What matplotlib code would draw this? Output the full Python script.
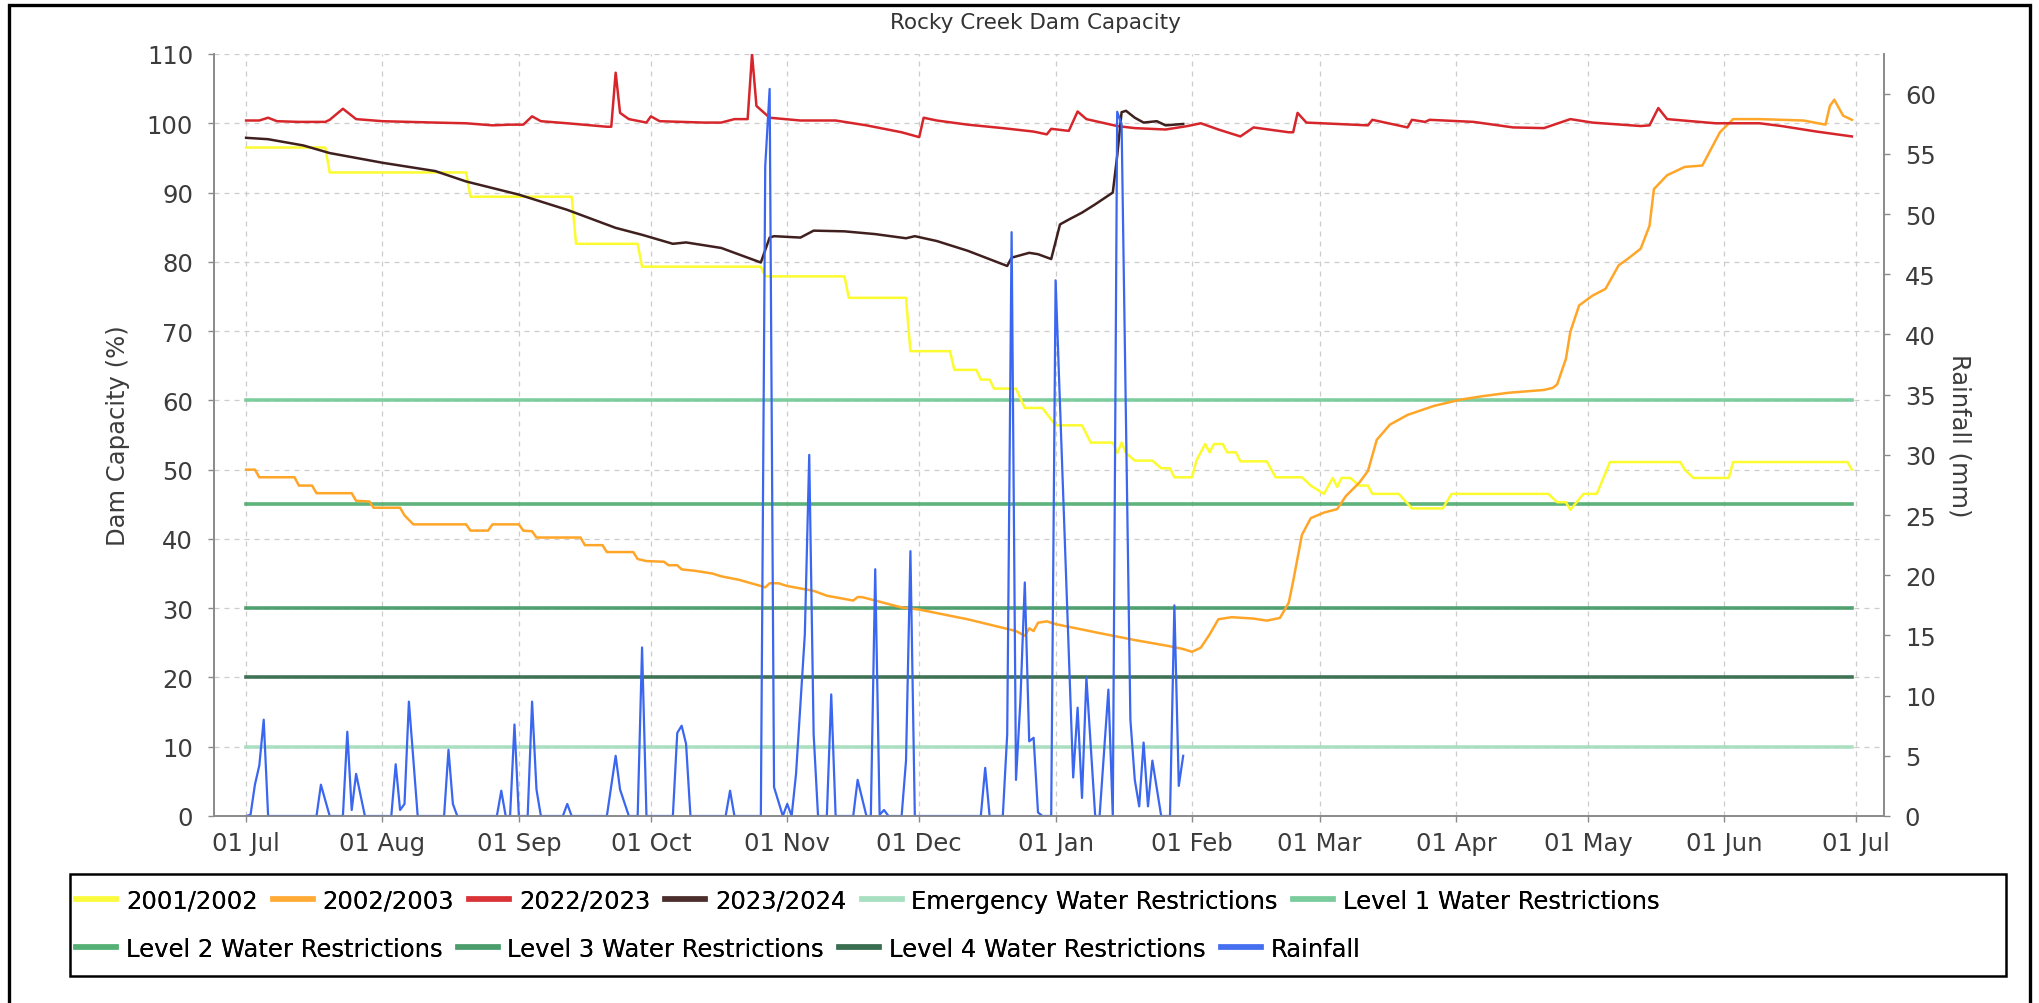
import numpy as np
import pandas as pd
import matplotlib
matplotlib.use("Agg")
import matplotlib.pyplot as plt
import matplotlib.dates as mdates
from matplotlib.patches import Rectangle

start = pd.Timestamp("2023-07-01")

# days are offsets from 01 Jul

# 2001/2002 (stepped)
y0102_days = [0, 18, 19, 50, 51, 74, 75, 89, 90, 117, 118, 136, 137, 150, 151, 160, 161, 166, 167, 169,
              170, 175, 177, 181, 184, 190, 192, 197, 198, 199, 200, 202, 206, 208, 210, 211, 215, 216, 218, 219,
              220, 222, 223, 225, 226, 232, 234, 240, 242, 245, 247, 248, 249, 251, 253, 255, 256, 262, 265, 272,
              274, 296, 298, 300, 301, 304, 307, 309, 310, 326, 327, 329, 337, 338, 364, 365]
y0102_pct = [96.5, 96.5, 92.9, 92.9, 89.4, 89.4, 82.6, 82.6, 79.3, 79.3, 77.9, 77.9, 74.8, 74.8, 67.1, 67.1, 64.4, 64.4, 63.0, 63.0,
             61.7, 61.7, 58.9, 58.9, 56.4, 56.4, 53.9, 53.9, 52.4, 53.9, 52.4, 51.3, 51.3, 50.2, 50.2, 48.9, 48.9, 51.3, 53.7, 52.5,
             53.7, 53.7, 52.5, 52.5, 51.2, 51.2, 48.9, 48.9, 47.7, 46.5, 48.8, 47.5, 48.8, 48.8, 47.7, 47.7, 46.5, 46.5, 44.4, 44.4,
             46.5, 46.5, 45.3, 45.3, 44.2, 46.5, 46.5, 49.5, 51.1, 51.1, 50.0, 48.8, 48.8, 51.1, 51.1, 50.0]

# 2002/2003
y0203_days = [0, 2, 3, 11, 12, 15, 16, 24, 25, 28, 29, 35, 36, 38, 50, 51, 55, 56, 62, 63,
              65, 66, 76, 77, 81, 82, 88, 89, 91, 95, 96, 98, 99, 102, 106, 108, 112, 117, 118, 119,
              121, 123, 129, 132, 138, 139, 140, 143, 149, 153, 164, 175, 177, 178, 179, 180, 182, 184, 194, 202,
              210, 213, 215, 217, 219, 221, 224, 229, 232, 235, 237, 238, 240, 242, 245, 248, 250, 253, 255, 257,
              260, 264, 270, 276, 281, 287, 295, 297, 298, 300, 301, 303, 306, 309, 312, 314, 317, 319, 320, 323,
              327, 331, 333, 335, 338, 344, 349, 354, 359, 360, 361, 363, 365]
y0203_pct = [50.0, 50.0, 48.9, 48.9, 47.7, 47.7, 46.6, 46.6, 45.5, 45.4, 44.5, 44.5, 43.4, 42.1, 42.1, 41.2, 41.2, 42.1, 42.1, 41.2,
             41.1, 40.2, 40.2, 39.1, 39.1, 38.1, 38.1, 37.1, 36.8, 36.7, 36.2, 36.2, 35.6, 35.4, 35.0, 34.6, 34.1, 33.2, 33.0, 33.6,
             33.6, 33.2, 32.5, 31.8, 31.1, 31.6, 31.6, 31.1, 30.1, 29.8, 28.4, 26.7, 26.0, 27.1, 26.7, 27.9, 28.1, 27.7, 26.4, 25.4,
             24.5, 24.1, 23.7, 24.3, 26.2, 28.4, 28.7, 28.5, 28.2, 28.6, 30.8, 33.9, 40.6, 43.0, 43.8, 44.3, 46.2, 48.1, 49.8, 54.3,
             56.5, 57.9, 59.2, 60.1, 60.6, 61.1, 61.5, 61.8, 62.3, 66.0, 69.9, 73.7, 75.1, 76.1, 79.5, 80.4, 81.9, 85.2, 90.5, 92.5,
             93.7, 93.9, 96.3, 98.7, 100.6, 100.6, 100.5, 100.4, 99.8, 102.5, 103.4, 101.1, 100.5]

# 2022/2023
y2223_days = [0, 3, 5, 7, 12, 18, 19, 22, 25, 31, 43, 50, 56, 60, 63, 65, 67, 73, 82, 83,
              84, 85, 87, 91, 92, 94, 104, 108, 111, 114, 115, 116, 119, 126, 134, 141, 149, 153, 154, 157,
              164, 172, 179, 182, 183, 187, 189, 191, 198, 202, 209, 214, 217, 221, 226, 229, 237, 238, 239, 241,
              255, 256, 264, 265, 268, 269, 279, 288, 295, 301, 306, 317, 319, 321, 323, 334, 344, 349, 357, 365]
y2223_pct = [100.4, 100.4, 100.8, 100.3, 100.2, 100.2, 100.5, 102.1, 100.6, 100.3, 100.1, 100.0, 99.7, 99.8, 99.8, 101.0, 100.3, 100.0, 99.5, 99.5,
             107.3, 101.5, 100.6, 100.1, 101.0, 100.3, 100.1, 100.1, 100.6, 100.6, 110.0, 102.5, 100.8, 100.4, 100.4, 99.7, 98.7, 98.0, 100.8, 100.4,
             99.8, 99.3, 98.8, 98.4, 99.2, 98.9, 101.7, 100.6, 99.6, 99.3, 99.1, 99.6, 100.0, 99.1, 98.1, 99.4, 98.7, 98.7, 101.5, 100.1,
             99.7, 100.5, 99.4, 100.5, 100.2, 100.5, 100.2, 99.4, 99.3, 100.6, 100.1, 99.6, 99.7, 102.2, 100.6, 100.0, 100.0, 99.6, 98.8, 98.1]

# 2023/2024
y2324_days = [0, 5, 13, 19, 31, 38, 43, 50, 62, 73, 84, 90, 97, 100, 104, 108, 117, 119, 120, 126,
              129, 136, 143, 150, 152, 157, 164, 173, 174, 178, 180, 183, 185, 187, 190, 193, 197, 198, 199, 200,
              202, 204, 207, 209, 213]
y2324_pct = [97.9, 97.7, 96.8, 95.7, 94.3, 93.6, 93.1, 91.6, 89.7, 87.5, 84.9, 83.9, 82.6, 82.8, 82.4, 82.0, 79.9, 83.5, 83.7, 83.5,
             84.5, 84.4, 84.0, 83.4, 83.7, 83.0, 81.6, 79.4, 80.6, 81.3, 81.1, 80.4, 85.4, 86.1, 87.1, 88.3, 90.0, 95.3, 101.6, 101.8,
             100.8, 100.1, 100.3, 99.7, 99.9]

# rainfall (mm, right axis)
rain_days = [0, 1, 2, 3, 4, 5, 16, 17, 19, 22, 23, 24, 25, 27, 33, 34, 35, 36, 37, 39,
             45, 46, 47, 48, 57, 58, 59, 60, 61, 62, 64, 65, 66, 67, 72, 73, 74, 82, 84, 85,
             87, 89, 90, 91, 97, 98, 99, 100, 101, 109, 110, 111, 117, 118, 119, 120, 122, 123, 124, 125,
             127, 128, 129, 130, 132, 133, 134, 138, 139, 141, 142, 143, 144, 145, 146, 149, 150, 151, 152, 167,
             168, 169, 172, 173, 174, 175, 176, 177, 178, 179, 180, 181, 183, 184, 188, 189, 190, 191, 193, 194,
             196, 197, 198, 199, 201, 202, 203, 204, 205, 206, 208, 210, 211, 212, 213]
rain_mm = [0, 0.1, 2.6, 4.2, 8.0, 0, 0, 2.6, 0, 0, 7.0, 0.5, 3.5, 0, 0, 4.3, 0.5, 1.0, 9.5, 0,
           0, 5.5, 1.0, 0, 0, 2.1, 0, 0, 7.6, 0, 0, 9.5, 2.2, 0, 0, 1.0, 0, 0, 5.0, 2.2,
           0, 0, 14.0, 0, 0, 6.9, 7.5, 6.0, 0, 0, 2.1, 0, 0, 54.0, 60.4, 2.4, 0, 1.0, 0, 3.5,
           15.1, 30.0, 6.8, 0, 0, 10.1, 0, 0, 3.0, 0, 0, 20.5, 0.1, 0.5, 0, 0, 4.6, 22.0, 0, 0,
           4.0, 0, 0, 6.8, 48.5, 3.0, 9.6, 19.4, 6.2, 6.5, 0.3, 0, 0, 44.5, 3.2, 9.0, 1.5, 11.5, 0, 0,
           10.5, 0, 58.5, 57.5, 8.0, 3.0, 0.8, 6.1, 0.8, 4.6, 0, 0, 17.5, 2.5, 5.0]

# restriction levels (% capacity)
level_names = ["Emergency Water Restrictions", "Level 1 Water Restrictions", "Level 2 Water Restrictions",
               "Level 3 Water Restrictions", "Level 4 Water Restrictions"]
level_pct = [10, 60, 45, 30, 20]
level_colors = ["#a3ddbd", "#72c996", "#4aab6d", "#3f9762", "#2c6545"]
level_days = [0, 365]


def to_dates(days):
    return start + pd.to_timedelta(np.asarray(days, dtype=float), unit="D")


plt.rcParams["font.family"] = ["DejaVu Sans"]
fs = 17.5
tick_col = "#3c3c3c"
axis_col = "#8a8a8a"

fig = plt.figure(figsize=(20.39, 10.04), dpi=100)
ax = fig.add_axes([214 / 2039, 1 - 817 / 1004, 1670 / 2039, 762 / 1004])
ax2 = ax.twinx()

handles = {}
for name, val, col in zip(level_names, level_pct, level_colors):
    h, = ax.plot(to_dates(level_days), [val, val], color=col, lw=2.6, alpha=0.9, zorder=2)
    handles[name] = h

handles["2001/2002"], = ax.plot(to_dates(y0102_days), y0102_pct, color="#fbfb30", lw=1.8, zorder=3)
handles["2002/2003"], = ax.plot(to_dates(y0203_days), y0203_pct, color="#ffa528", lw=1.8, zorder=3)
handles["2022/2023"], = ax.plot(to_dates(y2223_days), y2223_pct, color="#d7262b", lw=1.8, zorder=4)
handles["2023/2024"], = ax.plot(to_dates(y2324_days), y2324_pct, color="#40201f", lw=1.8, zorder=5)
handles["Rainfall"], = ax2.plot(to_dates(rain_days), rain_mm, color="#3a66f0", lw=1.6)

ax.set_xlim(start - pd.Timedelta(days=7.3), start + pd.Timedelta(days=372.3))
ax.set_ylim(0, 110)
ax2.set_ylim(0, 63.3)
ax.set_yticks(np.arange(0, 111, 10))
ax2.set_yticks(np.arange(0, 61, 5))

ax.xaxis.set_major_locator(mdates.MonthLocator())
ax.xaxis.set_major_formatter(mdates.DateFormatter("%d %b"))

ax.grid(True, color="#cccccc", lw=0.9, ls=(0, (4, 4)))
ax.set_axisbelow(True)

for a in (ax, ax2):
    a.patch.set_visible(False)
    a.spines["top"].set_visible(False)
    for s in ("left", "right", "bottom"):
        a.spines[s].set_color(axis_col)
        a.spines[s].set_linewidth(1.2)
    a.tick_params(colors=axis_col, labelcolor=tick_col, labelsize=fs, length=4, width=1)
ax.tick_params(axis="y", pad=11)
ax2.tick_params(axis="y", pad=11)
ax.tick_params(axis="x", pad=7)

ax.set_ylabel("Dam Capacity (%)", fontsize=fs, color=tick_col)
ax.yaxis.set_label_coords(-0.05, 0.5)
ax2.set_ylabel("Rainfall (mm)", fontsize=fs, color=tick_col, rotation=270, va="bottom")
ax2.yaxis.set_label_coords(1.038, 0.5)

fig.text(0.508, 1 - 23 / 1004, "Rocky Creek Dam Capacity", ha="center", va="center",
         fontsize=15.5, color="#333333")

# legend: two flowing rows inside one black box
row1 = ["2001/2002", "2002/2003", "2022/2023", "2023/2024",
        "Emergency Water Restrictions", "Level 1 Water Restrictions"]
row2 = ["Level 2 Water Restrictions", "Level 3 Water Restrictions",
        "Level 4 Water Restrictions", "Rainfall"]
for row, ycen in ((row1, 902), (row2, 950)):
    leg = fig.legend([handles[n] for n in row], row, ncol=len(row), frameon=False,
                     loc="center left", bbox_to_anchor=(76 / 2039, 1 - ycen / 1004),
                     fontsize=fs, handlelength=1.65, handletextpad=0.4, columnspacing=0.62,
                     borderpad=0, borderaxespad=0)
    for h in leg.legend_handles:
        h.set_linewidth(4)
        h.set_alpha(0.75)
    fig.add_artist(leg)

fig.add_artist(Rectangle((70 / 2039, 1 - 977 / 1004), 1936 / 2039, 102 / 1004,
                         transform=fig.transFigure, fill=False, ec="black", lw=1.8))
fig.add_artist(Rectangle((9 / 2039, -0.02), 2021 / 2039, 1.02 - 6 / 1004,
                         transform=fig.transFigure, fill=False, ec="black", lw=2.4))

fig.savefig("out.png", dpi=100)
